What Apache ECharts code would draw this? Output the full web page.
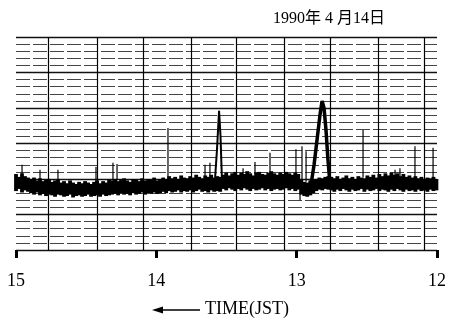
<!DOCTYPE html>
<html>
<head>
<meta charset="utf-8">
<script src="https://cdn.jsdelivr.net/npm/echarts@6/dist/echarts.min.js"></script>
<style>
  html, body { margin: 0; padding: 0; background: #fff; }
  #chart { width: 449px; height: 323px; }
</style>
</head>
<body>
<div id="chart"></div>
<script>
// time axis in hours (JST), recorder runs right to left
var hourTicks = [12, 13, 14, 15];
// chart-paper vertical rulings (hours)
var paperLinesH = [14.772, 14.423, 14.088, 13.753, 13.425, 13.090, 12.755, 12.420, 12.086];

// noise band of the trace, sampled from 15h every traceStepH hours
var traceStartH = 15.0;
var traceStepH = 0.0214;
var bandTop = [
    10.7, 10.3, 10.8, 10.4, 10.2,
    10.0, 10.2, 9.8, 10.1, 9.7, 9.9, 10.0, 9.6, 9.8, 9.9,
    9.5, 9.7, 9.4, 9.8, 9.5, 9.3, 9.6, 9.4, 9.7, 9.5, 9.3, 9.6, 9.8, 9.4, 9.7, 9.5, 9.9,
    9.8, 10.0, 9.7, 9.9, 10.1, 9.8, 9.6, 10.0, 9.9, 9.7, 10.1, 9.8, 10.0, 9.9, 10.2, 9.8, 10.0,
    10.2, 10.0, 10.4, 10.1, 10.3, 10.0, 10.5, 10.2, 10.1, 10.4, 10.2, 10.6, 10.3, 10.1, 10.5, 10.3, 10.6, 10.2, 10.4,
    10.3,
    10.6, 10.9, 10.5, 10.8, 11.0, 10.6, 10.9, 10.7, 11.1, 10.8, 10.5, 10.9, 11.0, 10.7, 10.6, 10.9, 11.1, 10.8, 10.6, 10.9, 10.7, 11.0, 10.8, 10.6, 10.9, 10.7,
    9.9, 9.6, 9.5, 9.8,
    9.9, 10.0, 10.2, 10.1, 10.3, 10.4,
    10.3, 10.1, 10.4, 10.0, 10.2, 10.5, 10.1, 10.3, 10.0, 10.4, 10.2, 10.1, 10.5, 10.3, 10.6, 10.2, 10.7, 10.4,
    10.8, 10.5, 10.9, 10.6, 10.8, 10.4, 10.7, 10.3, 10.5, 10.2, 10.4, 10.1, 10.3, 10.0, 10.2, 10.1, 10.3, 10.0
];
var bandBottom = [
    8.3, 8.6, 8.1, 8.4, 8.2,
    8.0, 7.8, 8.1, 7.7, 7.9, 7.6, 7.8, 7.7, 7.5, 7.8,
    7.7, 7.5, 7.6, 7.8, 7.4, 7.6, 7.7, 7.5, 7.6, 7.8, 7.5, 7.6, 7.7, 7.5, 7.8, 7.6, 7.7,
    7.8, 7.9, 7.7, 8.0, 7.8, 7.9, 7.7, 8.0, 7.8, 7.9, 8.1, 7.8, 8.0, 7.9, 8.1, 7.9, 8.0,
    8.2, 8.0, 8.3, 8.1, 8.2, 8.4, 8.1, 8.3, 8.2, 8.4, 8.1, 8.3, 8.5, 8.2, 8.3, 8.1, 8.4, 8.2, 8.3,
    8.2,
    8.6, 8.4, 8.7, 8.5, 8.3, 8.6, 8.4, 8.7, 8.5, 8.3, 8.6, 8.4, 8.5, 8.7, 8.4, 8.6, 8.3, 8.5, 8.6, 8.4, 8.5, 8.7, 8.4, 8.6, 8.3, 8.5,
    7.8, 7.6, 7.5, 7.7,
    8.0, 8.3, 8.5, 8.4, 8.6, 8.5,
    8.4, 8.2, 8.5, 8.3, 8.6, 8.4, 8.2, 8.5, 8.3, 8.4, 8.6, 8.2, 8.5, 8.3, 8.4, 8.6, 8.3, 8.5,
    8.4, 8.2, 8.5, 8.3, 8.6, 8.4, 8.2, 8.5, 8.3, 8.4, 8.2, 8.5, 8.3, 8.4, 8.2, 8.5, 8.3, 8.4
];

// isolated spikes: [hour, from, to]
var spikes = [
    [14.957, 10.0, 12.0], [14.829, 9.8, 11.3], [14.701, 9.6, 11.3], [14.430, 9.4, 11.7],
    [14.309, 9.8, 12.3], [14.280, 9.8, 12.1], [13.917, 10.0, 17.2], [13.653, 10.2, 12.0],
    [13.618, 10.2, 12.3], [13.382, 10.6, 11.5], [13.297, 10.6, 12.4], [13.190, 10.6, 13.7],
    [13.005, 10.6, 14.2], [12.962, 9.8, 14.6], [12.933, 9.6, 13.9], [12.976, 7.0, 8.5],
    [12.527, 10.2, 16.9], [12.299, 10.3, 11.3], [12.264, 10.3, 11.5], [12.157, 10.2, 14.6],
    [12.028, 10.1, 14.4]
];

// narrow burst near 13:33 and the large burst near 12:49
var burstA = [[13.582, 9.9], [13.568, 14.1], [13.553, 19.6], [13.543, 16.2], [13.532, 9.6]];
var burstB = [
    [12.919, 8.2], [12.898, 9.2], [12.876, 12.0], [12.855, 15.5], [12.834, 19.0],
    [12.819, 21.0], [12.805, 20.0], [12.791, 16.9], [12.777, 12.7], [12.762, 9.2], [12.748, 8.5]
];

var bandData = bandTop.map(function (v, i) {
    return [traceStartH - i * traceStepH, bandBottom[i], v];
});

var serifFont = "'Liberation Serif', 'Noto Sans CJK JP', serif";

var chart = echarts.init(document.getElementById('chart'));
var option = {
    backgroundColor: '#fff',
    animation: false,
    title: {
        text: '1990年 4 月14日',
        left: 268,
        top: 6,
        textStyle: { fontFamily: serifFont, fontSize: 16, fontWeight: 'normal', color: '#000' }
    },
    grid: { left: 16, right: 12, top: 37, bottom: 73 },
    xAxis: {
        type: 'value',
        min: 12,
        max: 15,
        interval: 1,
        inverse: true,
        offset: 6,
        axisLine: { show: false },
        axisTick: { show: true, length: 8, lineStyle: { color: '#000', width: 3 } },
        axisLabel: {
            margin: 16,
            fontFamily: serifFont,
            fontSize: 18,
            color: '#000',
            formatter: function (v) { return hourTicks.indexOf(v) >= 0 ? String(v) : ''; }
        },
        splitLine: { show: false }
    },
    yAxis: [
        {
            type: 'value', min: 0, max: 30, interval: 1,
            axisLine: { show: false }, axisTick: { show: false }, axisLabel: { show: false },
            splitLine: { lineStyle: { color: '#444', width: 1, type: [14, 3] } }
        },
        {
            type: 'value', min: 0, max: 30, interval: 5, position: 'left',
            axisLine: { show: false }, axisTick: { show: false }, axisLabel: { show: false },
            splitLine: { lineStyle: { color: '#111', width: 1.4 } }
        }
    ],
    graphic: [
        {
            type: 'line',
            shape: { x1: 160, y1: 310, x2: 200, y2: 310 },
            style: { stroke: '#000', lineWidth: 1.3 }
        },
        {
            type: 'polygon',
            shape: { points: [[152, 310], [163, 306.5], [163, 313.5]] },
            style: { fill: '#000' }
        },
        {
            type: 'text',
            left: 205,
            top: 300,
            style: { text: 'TIME(JST)', font: '18px ' + serifFont, fill: '#000' }
        }
    ],
    series: [
        {
            name: 'paper',
            type: 'line',
            data: [],
            markLine: {
                silent: true,
                symbol: ['none', 'none'],
                label: { show: false },
                lineStyle: { color: '#000', width: 1.2, type: 'solid' },
                data: paperLinesH.map(function (h) { return { xAxis: h }; })
            }
        },
        {
            name: 'band',
            type: 'custom',
            data: bandData,
            encode: { x: 0, y: [1, 2] },
            renderItem: function (params, api) {
                var top = api.coord([api.value(0), api.value(2)]);
                var bot = api.coord([api.value(0), api.value(1)]);
                var w = Math.abs(api.size([traceStepH, 0])[0]) + 0.8;
                return {
                    type: 'rect',
                    shape: { x: top[0] - w / 2, y: top[1], width: w, height: bot[1] - top[1] },
                    style: { fill: '#000' }
                };
            }
        },
        {
            name: 'spikes',
            type: 'custom',
            data: spikes,
            encode: { x: 0, y: [1, 2] },
            renderItem: function (params, api) {
                var a = api.coord([api.value(0), api.value(1)]);
                var b = api.coord([api.value(0), api.value(2)]);
                return {
                    type: 'line',
                    shape: { x1: a[0], y1: a[1], x2: b[0], y2: b[1] },
                    style: { stroke: '#000', lineWidth: 1.2 }
                };
            }
        },
        {
            name: 'burstA',
            type: 'line',
            data: burstA,
            symbol: 'none',
            lineStyle: { color: '#000', width: 2 }
        },
        {
            name: 'burstB',
            type: 'line',
            data: burstB,
            symbol: 'none',
            lineStyle: { color: '#000', width: 3.5 }
        }
    ]
};
chart.setOption(option);
</script>
</body>
</html>
